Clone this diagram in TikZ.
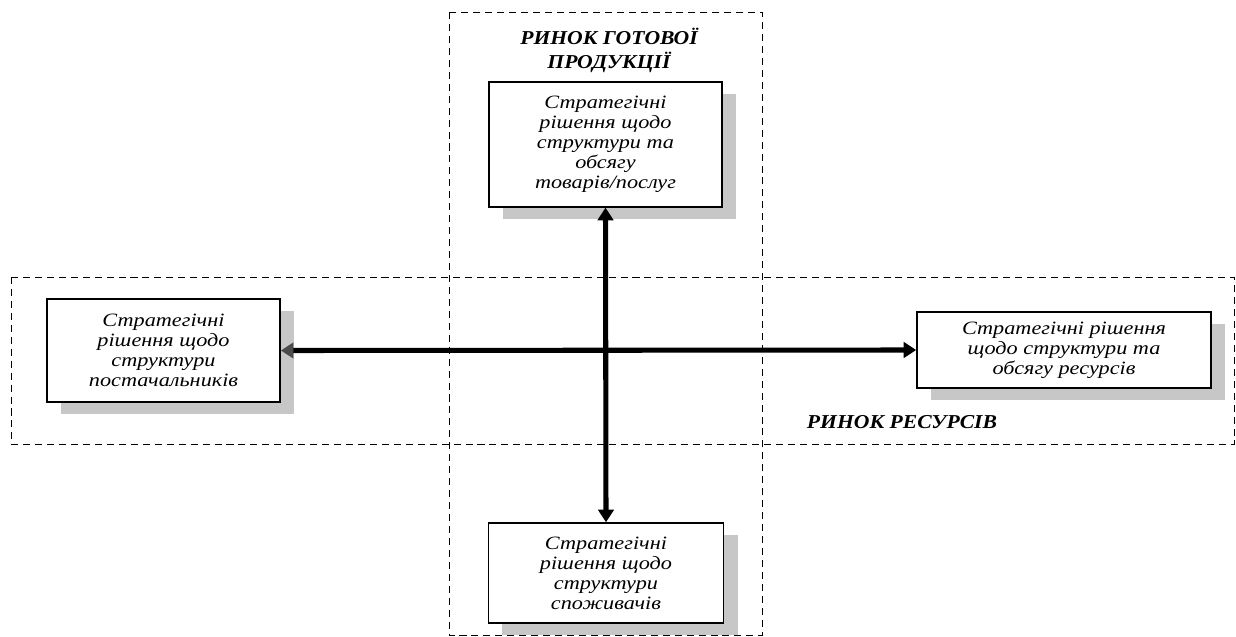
\documentclass[tikz,border=0pt]{standalone}
\usepackage{fontspec}
\setmainfont{Liberation Serif}[FakeStretch=1.18]
\newfontfamily\marketfont{Liberation Serif}[FakeStretch=1.1]
\usetikzlibrary{arrows.meta,shadows}
\definecolor{shadowgray}{rgb}{0.78, 0.78, 0.78}
\definecolor{headgray}{rgb}{0.3, 0.3, 0.3}

\begin{document}
\begin{tikzpicture}[x=0.025cm, y=-0.025cm]
    \tikzstyle{market_style} = [dashed, dash pattern=on 5pt off 3.5pt, line width=0.7pt, black]
    \tikzstyle{box_style} = [draw, line width=1pt, fill=white, align=center,
        font=\fontsize{13.4}{14.2}\selectfont\itshape,
        drop shadow={shadow xshift=0.35cm, shadow yshift=-0.3cm, fill=shadowgray, opacity=1}]
    \tikzstyle{label_style} = [align=center, font=\marketfont\fontsize{14}{17}\selectfont\bfseries\itshape]
    \tikzstyle{link_style} = [line width=3.6pt, black, {Triangle[length=9pt,width=11pt]}-{Triangle[length=9pt,width=11pt]}]

    \useasboundingbox (0,0) rectangle (1236,637);

    % markets
    \draw[market_style] (449,12) rectangle (762,635);
    \draw[market_style] (11,277) rectangle (1234,444);
    \node[label_style] (goods) at (609,50) {РИНОК ГОТОВОЇ\\ПРОДУКЦІЇ};
    \node[label_style] (resources) at (902,422) {РИНОК РЕСУРСІВ};

    % decisions
    \node[box_style, minimum width=5.83cm, minimum height=3.12cm] (products) at (605.5,144.5)
        {Стратегічні\\рішення щодо\\структури та\\обсягу\\товарів/послуг};
    \node[box_style, minimum width=5.83cm, minimum height=2.58cm] (suppliers) at (163.5,350.5)
        {Стратегічні\\рішення щодо\\структури\\постачальників};
    \node[box_style, minimum width=7.35cm, minimum height=1.9cm] (inputs) at (1064,350)
        {Стратегічні рішення\\щодо структури та\\обсягу ресурсів};
    \node[box_style, minimum width=5.88cm, minimum height=2.5cm] (consumers) at (606,573)
        {Стратегічні\\рішення щодо\\структури\\споживачів};

    \draw[link_style] (products.south) -- (consumers.north);
    \draw[link_style, {Triangle[length=9pt,width=11pt,color=headgray]}-{Triangle[length=9pt,width=11pt]}]
        (suppliers.east) -- (inputs.west);
\end{tikzpicture}
\end{document}
